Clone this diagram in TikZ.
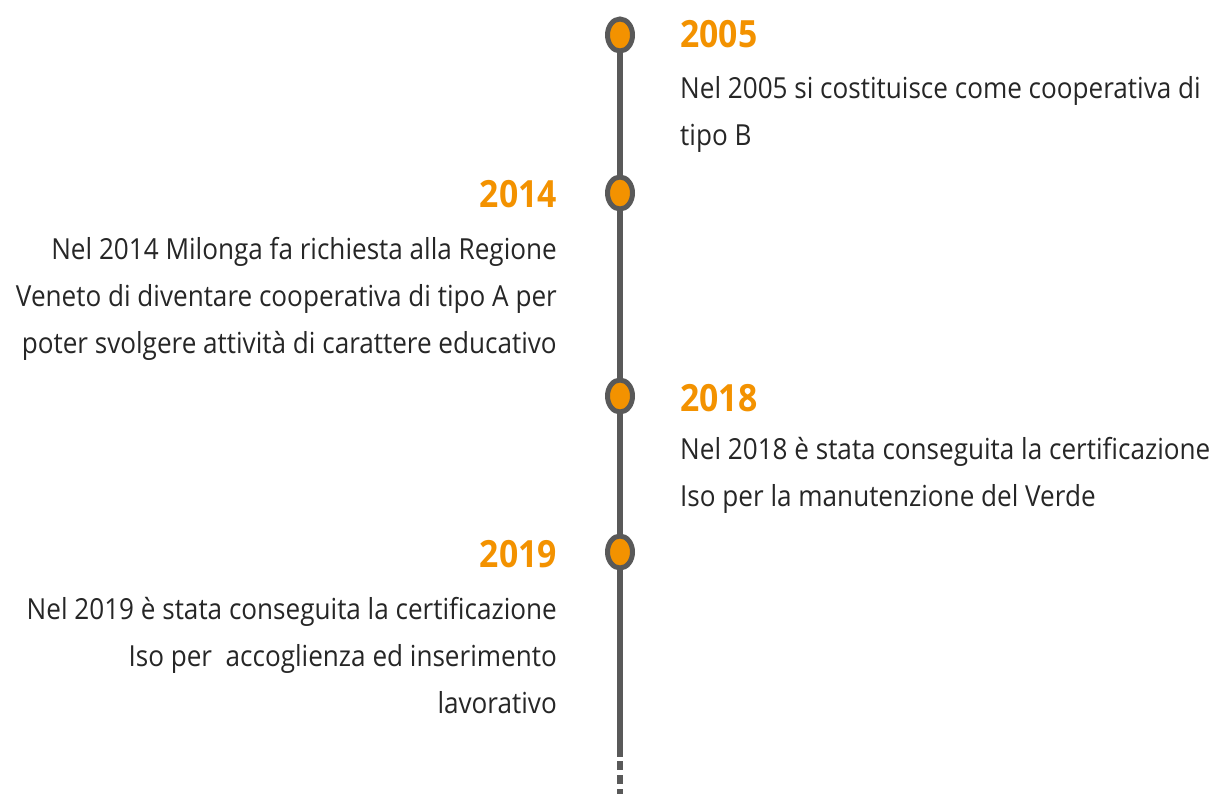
\documentclass[tikz,border=0pt]{standalone}
\usepackage{fontspec}
\usetikzlibrary{shapes.geometric}
\setmainfont[FakeStretch=0.90]{Open Sans}
\definecolor{tlorange}{HTML}{F39200}
\definecolor{tlgray}{HTML}{595959}
\definecolor{tltext}{HTML}{262626}
\begin{document}
\begin{tikzpicture}[x=1pt,y=-1pt,
  yearR/.style={anchor=base west,inner sep=0pt,font=\fontsize{37.5}{38}\selectfont\bfseries,text=tlorange},
  yearL/.style={anchor=base east,inner sep=0pt,font=\fontsize{37.5}{38}\selectfont\bfseries,text=tlorange},
  bodyR/.style={anchor=base west,inner sep=0pt,align=left,font=\fontsize{29}{47}\selectfont,text=tltext},
  bodyL/.style={anchor=base east,inner sep=0pt,align=right,font=\fontsize{29}{47}\selectfont,text=tltext},
  dot/.style={ellipse,minimum width=25pt,minimum height=32pt,inner sep=0pt,draw=tlgray,line width=5pt,fill=tlorange},
  axis/.style={draw=tlgray,line width=6pt}]
\useasboundingbox (0,0) rectangle (1214,794);
\coordinate (top) at (620,35);
\coordinate (end) at (620,757);
\coordinate (tail) at (620,794);
\draw[axis] (top) -- (end);
\draw[axis,dash pattern=on 9pt off 5pt] (620,761) -- (tail);
\node[dot] (d1) at (620,35) {};
\node[dot] (d2) at (620,193) {};
\node[dot] (d3) at (620,396) {};
\node[dot] (d4) at (620,552) {};
% base anchor of a multi-line node = baseline of its last line
\node[yearR] (y1) at (680,48) {2005};
\node[bodyR] (t1) at (680,146) {Nel 2005 si costituisce come cooperativa di\\tipo B};
\node[yearL] (y2) at (557,208) {2014};
\node[bodyL] (t2) at (557,353) {Nel 2014 Milonga fa richiesta alla Regione\\Veneto di diventare cooperativa di tipo A per\\poter svolgere attività di carattere educativo};
\node[yearR] (y3) at (680,411) {2018};
\node[bodyR] (t3) at (680,506) {Nel 2018 è stata conseguita la certificazione\\Iso per la manutenzione del Verde};
\node[yearL] (y4) at (557,567) {2019};
\node[bodyL] (t4) at (557,713) {Nel 2019 è stata conseguita la certificazione\\Iso per\ \ accoglienza ed inserimento\\lavorativo};
\end{tikzpicture}
\end{document}
